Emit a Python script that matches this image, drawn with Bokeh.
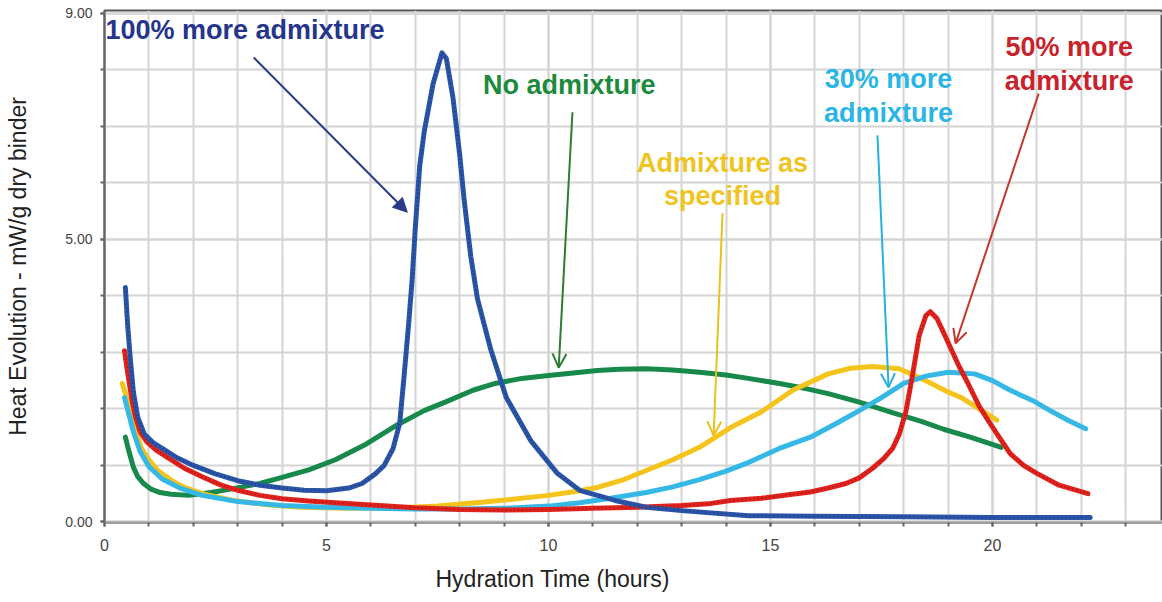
from bokeh.plotting import figure
from bokeh.models import (Range1d, FixedTicker, NumeralTickFormatter, Label, Arrow,
                          NormalHead, OpenHead, Title)
from bokeh.embed import file_html
from bokeh.resources import INLINE

# ---------------- data ----------------
blue_x = [0.47, 0.52, 0.58, 0.65, 0.75, 0.9, 1.1, 1.3, 1.6, 2.0, 2.5, 3.0, 3.5, 4.0, 4.5, 5.0,
          5.5, 5.8, 6.1, 6.3, 6.5, 6.65, 6.75, 6.85, 6.93, 7.0, 7.1, 7.2, 7.4, 7.6, 7.7, 7.85,
          8.0, 8.1, 8.25, 8.4, 8.7, 9.05, 9.6, 10.2, 10.7, 11.5, 12.2, 13.0, 14.5, 16.0, 18.0,
          20.0, 22.2]
blue_y = [4.15, 3.5, 2.9, 2.3, 1.85, 1.55, 1.4, 1.3, 1.15, 1.0, 0.85, 0.73, 0.65, 0.6, 0.56, 0.55,
          0.6, 0.68, 0.85, 1.0, 1.3, 1.75, 2.6, 3.5, 4.3, 5.2, 6.3, 6.9, 7.75, 8.3, 8.2, 7.5,
          6.5, 5.7, 4.7, 3.95, 3.05, 2.2, 1.44, 0.86, 0.56, 0.38, 0.26, 0.2, 0.11, 0.1, 0.09,
          0.08, 0.08]

green_x = [0.47, 0.55, 0.65, 0.75, 0.88, 1.05, 1.25, 1.5, 1.9, 2.4, 2.9, 3.5, 4.0, 4.6, 5.2, 5.9,
           6.6, 7.2, 7.7, 8.3, 8.8, 9.4, 10.0, 10.5, 11.1, 11.6, 12.2, 12.8, 13.4, 14.0, 14.5,
           15.2, 15.8, 16.3, 17.0, 17.8, 18.4, 18.9, 19.5, 20.2]
green_y = [1.5, 1.25, 0.97, 0.8, 0.68, 0.58, 0.52, 0.49, 0.47, 0.52, 0.59, 0.68, 0.79, 0.92, 1.1,
           1.38, 1.72, 1.97, 2.13, 2.33, 2.45, 2.54, 2.59, 2.63, 2.68, 2.7, 2.71, 2.69, 2.65, 2.6,
           2.54, 2.45, 2.36, 2.27, 2.12, 1.92, 1.78, 1.64, 1.5, 1.32]

yellow_x = [0.4, 0.5, 0.6, 0.7, 0.82, 1.0, 1.2, 1.5, 1.8, 2.3, 2.9, 3.6, 4.4, 5.5, 6.7, 7.5, 8.5,
            9.3, 10.0, 10.6, 11.1, 11.7, 12.2, 12.8, 13.4, 14.1, 14.8, 15.5, 16.3, 16.8, 17.3,
            17.9, 18.5, 19.0, 19.3, 19.7, 20.1]
yellow_y = [2.45, 2.2, 1.92, 1.65, 1.32, 1.1, 0.91, 0.74, 0.61, 0.48, 0.38, 0.31, 0.26, 0.24,
            0.25, 0.28, 0.35, 0.41, 0.47, 0.54, 0.61, 0.75, 0.91, 1.1, 1.32, 1.67, 1.95, 2.33,
            2.62, 2.72, 2.75, 2.71, 2.5, 2.3, 2.2, 2.0, 1.8]

cyan_x = [0.45, 0.55, 0.65, 0.8, 1.0, 1.3, 1.7, 2.2, 3.0, 4.0, 5.0, 6.0, 7.0, 8.0, 9.0, 10.0, 10.7,
          11.4, 12.2, 12.8, 13.4, 14.0, 14.5, 15.2, 15.9, 16.5, 17.0, 17.5, 18.0, 18.5, 19.0,
          19.6, 20.0, 20.4, 20.9, 21.3, 21.7, 22.1]
cyan_y = [2.2, 1.9, 1.6, 1.25, 0.98, 0.76, 0.6, 0.47, 0.36, 0.29, 0.26, 0.24, 0.23, 0.23, 0.24,
          0.28, 0.34, 0.42, 0.52, 0.62, 0.75, 0.9, 1.05, 1.3, 1.5, 1.75, 1.97, 2.2, 2.45, 2.58,
          2.65, 2.62, 2.5, 2.33, 2.15, 1.97, 1.8, 1.65]

red_x = [0.45, 0.5, 0.55, 0.62, 0.7, 0.8, 0.95, 1.15, 1.4, 1.8, 2.2, 2.6, 3.0, 3.5, 4.0, 4.6, 5.2,
         6.0, 7.0, 8.0, 9.0, 10.0, 11.0, 12.0, 13.0, 13.6, 14.1, 14.8, 15.4, 15.9, 16.3, 16.7,
         17.0, 17.3, 17.55, 17.75, 17.9, 18.05, 18.2, 18.35, 18.5, 18.6, 18.75, 18.9, 19.05,
         19.25, 19.45, 19.7, 19.9, 20.15, 20.4, 20.7, 21.0, 21.5, 22.15]
red_y = [3.03, 2.75, 2.5, 2.15, 1.85, 1.6, 1.42, 1.28, 1.15, 0.95, 0.8, 0.66, 0.56, 0.47, 0.41,
         0.37, 0.34, 0.3, 0.25, 0.22, 0.21, 0.22, 0.24, 0.26, 0.29, 0.32, 0.38, 0.42, 0.48, 0.53,
         0.6, 0.68, 0.78, 0.95, 1.12, 1.3, 1.55, 1.95, 2.6, 3.3, 3.65, 3.72, 3.6, 3.35, 3.09,
         2.75, 2.45, 2.05, 1.8, 1.5, 1.21, 1.0, 0.86, 0.65, 0.5]

x_major_ticks = [0, 5, 10, 15, 20]
x_minor_ticks = list(range(0, 24))
y_major_ticks = [0, 5, 9]
y_minor_ticks = list(range(0, 10))

x_title = "Hydration Time (hours)"
y_title = "Heat Evolution - mW/g dry binder"

FONT = "Liberation Sans"

p = figure(width=1162, height=602, output_backend="svg", toolbar_location=None,
           x_range=Range1d(0, 23.83), y_range=Range1d(-0.01, 9.05),
           min_border_left=104, min_border_right=0, min_border_top=10, min_border_bottom=80)
p.background_fill_color = "white"
p.border_fill_color = "white"
p.outline_line_color = "#555555"
p.outline_line_width = 2

# axes
p.xaxis.ticker = FixedTicker(ticks=x_major_ticks, minor_ticks=x_minor_ticks)
p.yaxis.ticker = FixedTicker(ticks=y_major_ticks, minor_ticks=y_minor_ticks)
p.yaxis.formatter = NumeralTickFormatter(format="0.00")
for ax in (p.xaxis, p.yaxis):
    ax.major_tick_in = 0
    ax.major_tick_out = 4
    ax.minor_tick_in = 0
    ax.minor_tick_out = 4
    ax.major_tick_line_color = "#666666"
    ax.minor_tick_line_color = "#666666"
    ax.major_tick_line_width = 2
    ax.minor_tick_line_width = 2
    ax.major_label_text_font = FONT
    ax.major_label_text_color = "#444444"
p.xaxis.axis_line_color = "#9a9a9a"
p.xaxis.axis_line_width = 2
p.yaxis.axis_line_color = "#666666"
p.yaxis.axis_line_width = 2
p.xaxis.major_label_text_font_size = "16px"
p.yaxis.major_label_text_font_size = "14px"
p.xaxis.major_label_standoff = 12
p.yaxis.major_label_standoff = 8

# y title as the axis label, x title placed off-centre as in the reference
p.yaxis.axis_label = y_title
p.yaxis.axis_label_text_font = FONT
p.yaxis.axis_label_text_font_size = "23px"
p.yaxis.axis_label_text_font_style = "normal"
p.yaxis.axis_label_text_color = "#222222"
p.yaxis.axis_label_standoff = 31
p.add_layout(Title(text=x_title, align="left", offset=331, text_font=FONT,
                   text_font_size="23px", text_font_style="normal", text_color="#222222",
                   standoff=21), "below")

# grid
for g in (p.xgrid, p.ygrid):
    g.grid_line_color = "#d4d4d4"
    g.grid_line_width = 2
    g.minor_grid_line_color = "#d4d4d4"
    g.minor_grid_line_width = 2

# curves
series = [
    (green_x, green_y, "#17894a"),
    (yellow_x, yellow_y, "#f4c41c"),
    (cyan_x, cyan_y, "#36b8e6"),
    (red_x, red_y, "#e0231d"),
    (blue_x, blue_y, "#2b55a6"),
]
for xs, ys, c in series:
    p.line(xs, ys, line_color=c, line_width=5, line_cap="round", line_join="round")
# beaded texture on the dotted curves
p.line(blue_x, blue_y, line_color="#1c3d8c", line_width=2, line_dash="1 3")
p.line(red_x, red_y, line_color="#b01515", line_width=2, line_dash="1 3")

# annotations: text lines, text colour, alignment, anchor, arrow start/end, arrow colour, head
annotations = [
    (["100% more admixture"], "#26358c", "left", 0.02, 8.70, (3.36, 8.22), (6.82, 5.48), "#2a3a88", "normal"),
    (["No admixture"], "#1c8a3c", "center", 10.47, 7.73, (10.54, 7.25), (10.23, 2.73), "#2e7d32", "open"),
    (["Admixture as", "specified"], "#efc41f", "center", 13.92, 6.36, (13.92, 5.46), (13.72, 1.53), "#e6c21c", "open"),
    (["30% more", "admixture"], "#2ab5e6", "center", 17.66, 7.83, (17.41, 6.84), (17.66, 2.38), "#2ab0e0", "open"),
    (["50% more", "admixture"], "#c8232c", "center", 21.73, 8.40, (21.04, 7.58), (19.17, 3.16), "#c0392b", "open"),
]
line_step = 0.59
for lines, tcol, align, tx, ty, a0, a1, acol, head in annotations:
    for i, t in enumerate(lines):
        p.add_layout(Label(x=tx, y=ty - i * line_step, text=t, text_color=tcol,
                           text_font=FONT, text_font_style="bold", text_font_size="27px",
                           text_align=align, text_baseline="middle"))
    if head == "normal":
        h = NormalHead(size=14, fill_color=acol, line_color=acol)
    else:
        h = OpenHead(size=14, line_color=acol, line_width=2)
    p.add_layout(Arrow(end=h, x_start=a0[0], y_start=a0[1], x_end=a1[0], y_end=a1[1],
                       line_color=acol, line_width=2))

open("out.html", "w").write(file_html(p, INLINE))
